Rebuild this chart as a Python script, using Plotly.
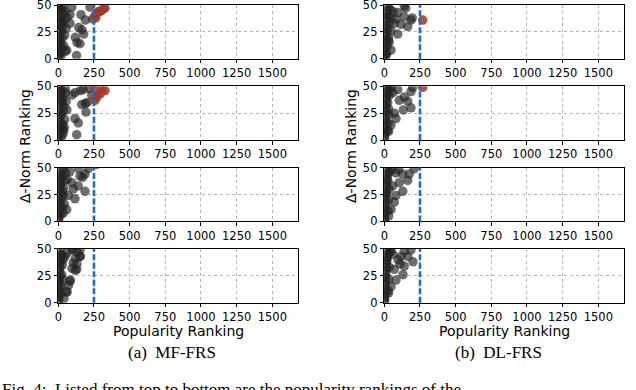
import plotly.graph_objects as go

# x = popularity ranking, y = delta-norm ranking
# MF-FRS panels (top to bottom)
mf1_x = [3, 5, 8, 4, 10, 6, 12, 3, 9, 15, 5, 11, 7, 20, 25, 18, 28, 22, 30, 17, 35, 26, 40, 45, 38, 50, 55, 48, 60, 33,
         82, 94, 119, 128, 131, 143, 152, 159, 166, 178, 189, 222, 59, 82, 240, 14, 24, 2]
mf1_y = [1, 4, 8, 12, 16, 20, 24, 28, 32, 36, 40, 44, 48, 3, 10, 14, 19, 26, 30, 38, 42, 46, 35, 22, 12, 7, 28, 44, 38, 49,
         33, 48, 20, 3, 15, 29, 14, 41, 27, 23, 36, 48, 8, 41, 37, 6, 33, 46]
mf1_red_x = [257, 269, 282, 293, 304, 318, 327, 262]
mf1_red_y = [40, 42, 44, 44, 45, 47, 47, 38]

mf2_x = [2, 6, 4, 9, 12, 7, 15, 3, 10, 18, 6, 14, 22, 25, 30, 20, 35, 28, 40, 32, 45, 38, 50, 55, 60, 16, 26, 42,
         49, 96, 154, 117, 175, 164, 203, 194, 117, 140, 129, 234, 215, 189, 8, 34]
mf2_y = [1, 5, 9, 13, 17, 21, 25, 29, 33, 37, 41, 45, 3, 11, 15, 23, 27, 35, 31, 39, 19, 9, 44, 36, 28, 48, 43, 12,
         48, 42, 46, 44, 47, 33, 35, 26, 20, 16, 5, 42, 48, 34, 49, 6]
mf2_red_x = [257, 304, 327, 269, 257, 293]
mf2_red_y = [48, 46, 46, 40, 37, 43]

mf3_x = [2, 5, 3, 8, 6, 11, 4, 13, 9, 16, 7, 20, 12, 24, 18, 28, 22, 30, 15, 26, 34, 38, 44, 50,
         35, 140, 210, 94, 152, 187, 171, 105, 140, 187, 70, 117, 42, 59, 35, 80, 62]
mf3_y = [1, 4, 8, 11, 15, 18, 22, 26, 30, 33, 37, 40, 44, 47, 6, 13, 20, 28, 35, 42, 24, 31, 38, 45,
         49, 49, 49, 36, 42, 44, 41, 30, 33, 28, 24, 21, 16, 11, 8, 46, 39]
mf3_red_x = [268]
mf3_red_y = [53]

mf4_x = [1, 3, 2, 5, 4, 7, 3, 8, 6, 10, 5, 12, 9, 14, 11, 16, 13, 18, 20, 24, 28, 22, 30, 34,
         105, 152, 47, 152, 105, 129, 82, 59, 96, 131, 154, 119, 131, 96, 119, 84, 72, 61, 40, 60]
mf4_y = [1, 3, 6, 9, 12, 15, 18, 21, 24, 27, 30, 33, 36, 39, 42, 45, 48, 8, 16, 26, 35, 44, 22, 40,
         50, 49, 43, 43, 37, 31, 20, 10, 49, 47, 43, 41, 36, 32, 30, 21, 16, 10, 4, 46]
mf4_red_x = []
mf4_red_y = []

# DL-FRS panels (top to bottom)
dl1_x = [2, 5, 3, 7, 4, 9, 6, 11, 8, 13, 10, 15, 18, 22, 26, 20, 30, 24, 35, 28, 40, 16, 45, 33,
         94, 140, 82, 140, 187, 196, 70, 117, 164, 94, 47, 30, 47, 12, 60, 150]
dl1_y = [1, 4, 7, 10, 14, 17, 21, 24, 28, 31, 35, 38, 42, 45, 48, 12, 20, 27, 33, 40, 46, 5, 38, 15,
         43, 49, 37, 39, 36, 38, 33, 32, 30, 23, 26, 17, 8, 3, 44, 47]
dl1_red_x = [269]
dl1_red_y = [36]

dl2_x = [2, 4, 3, 6, 5, 8, 7, 10, 9, 12, 11, 14, 16, 19, 22, 18, 25, 28, 32, 24, 36, 40, 30, 15,
         47, 94, 199, 187, 140, 105, 164, 187, 133, 82, 47, 30, 60, 70]
dl2_y = [1, 4, 7, 10, 13, 17, 20, 23, 27, 30, 33, 37, 40, 43, 47, 50, 9, 16, 24, 35, 42, 48, 29, 45,
         49, 47, 49, 45, 40, 37, 36, 30, 28, 20, 14, 8, 44, 25]
dl2_red_x = [269]
dl2_red_y = [49]

dl3_x = [1, 3, 2, 5, 4, 7, 6, 9, 8, 11, 10, 13, 15, 18, 21, 24, 20, 27, 30, 34, 25, 38, 16,
         47, 82, 129, 175, 210, 164, 105, 129, 82, 70, 47, 30, 58, 100]
dl3_y = [1, 3, 6, 9, 12, 15, 18, 21, 24, 27, 30, 33, 36, 39, 42, 45, 48, 10, 20, 30, 38, 46, 26,
         48, 45, 44, 44, 49, 38, 36, 28, 24, 18, 11, 5, 33, 48]
dl3_red_x = []
dl3_red_y = []

dl4_x = [1, 3, 2, 5, 4, 7, 6, 9, 8, 11, 10, 13, 15, 18, 21, 24, 20, 27, 30, 34, 16, 38,
         47, 140, 187, 117, 164, 96, 201, 140, 131, 82, 70, 47, 30, 60, 110]
dl4_y = [1, 3, 6, 9, 12, 15, 18, 21, 24, 27, 30, 33, 36, 39, 42, 45, 48, 11, 22, 33, 40, 47,
         48, 48, 49, 43, 43, 40, 38, 34, 26, 21, 31, 15, 9, 45, 36]
dl4_red_x = []
dl4_red_y = []

THRESHOLD = 250
X_MAX = 1682
x_ticks = [0, 250, 500, 750, 1000, 1250, 1500]
y_ticks = [0, 25, 50]

panels = [
    (mf1_x, mf1_y, mf1_red_x, mf1_red_y), (mf2_x, mf2_y, mf2_red_x, mf2_red_y),
    (mf3_x, mf3_y, mf3_red_x, mf3_red_y), (mf4_x, mf4_y, mf4_red_x, mf4_red_y),
    (dl1_x, dl1_y, dl1_red_x, dl1_red_y), (dl2_x, dl2_y, dl2_red_x, dl2_red_y),
    (dl3_x, dl3_y, dl3_red_x, dl3_red_y), (dl4_x, dl4_y, dl4_red_x, dl4_red_y),
]

W, H = 636, 390
col_left = [58.3, 384.3]
col_right = [298.3, 624.3]
row_top = [5, 86.3, 167.6, 248.9]
row_h = 53.8

GRAY = "rgba(35,35,35,0.66)"
RED = "rgba(165,55,35,0.85)"
BLUE = "#1f6cc4"
tick_font = dict(family="DejaVu Sans", size=11.5, color="black")

fig = go.Figure()
layout = {}
shapes = []

for i, (gx, gy, rx, ry) in enumerate(panels):
    col = i // 4
    row = i % 4
    n = i + 1
    xa = "x" if n == 1 else f"x{n}"
    ya = "y" if n == 1 else f"y{n}"

    fig.add_trace(go.Scatter(
        x=gx, y=gy, mode="markers", xaxis=xa, yaxis=ya, showlegend=False,
        marker=dict(size=9.5, color=GRAY, line=dict(width=0)),
    ))
    if rx:
        fig.add_trace(go.Scatter(
            x=rx, y=ry, mode="markers", xaxis=xa, yaxis=ya, showlegend=False,
            marker=dict(size=9.5, color=RED, line=dict(width=0)),
        ))

    # threshold line
    shapes.append(dict(
        type="line", xref=xa, yref=f"{ya} domain", x0=THRESHOLD, x1=THRESHOLD, y0=0, y1=1,
        line=dict(color=BLUE, width=2.6, dash="6px,2.5px"),
    ))

    top = row_top[row]
    common = dict(
        showline=True, linecolor="black", linewidth=1, mirror=True,
        ticks="outside", ticklen=3.5, tickcolor="black",
        showgrid=True, gridcolor="#b5b5b5", griddash="dot", gridwidth=0.8,
        zeroline=False, tickfont=tick_font, automargin=False,
        ticklabeloverflow="allow",
    )
    layout["xaxis" if n == 1 else f"xaxis{n}"] = dict(
        domain=[col_left[col] / W, col_right[col] / W],
        anchor=ya, range=[0, X_MAX], tickvals=x_ticks, **common,
    )
    layout["yaxis" if n == 1 else f"yaxis{n}"] = dict(
        domain=[1 - (top + row_h) / H, 1 - top / H],
        anchor=xa, range=[0, 50], tickvals=y_ticks, **common,
    )

annotations = []
label_font = dict(family="DejaVu Sans", size=14, color="black")
serif_font = dict(family="Liberation Serif", size=17, color="black")
for col, cap in enumerate(["(a)  MF-FRS", "(b)  DL-FRS"]):
    cx = (col_left[col] + col_right[col]) / 2 / W
    annotations.append(dict(text="Popularity Ranking", x=cx, y=1 - 321 / H, xref="paper", yref="paper",
                            xanchor="center", yanchor="top", showarrow=False, font=label_font))
    annotations.append(dict(text=cap, x=cx - 6 / W, y=1 - 341 / H, xref="paper", yref="paper",
                            xanchor="center", yanchor="top", showarrow=False, font=serif_font))
annotations.append(dict(text="Δ-Norm Ranking", x=25 / W, y=1 - 146 / H, xref="paper", yref="paper",
                        xanchor="center", yanchor="middle", textangle=-90, showarrow=False, font=label_font))
annotations.append(dict(text="Δ-Norm Ranking", x=351 / W, y=1 - 146 / H, xref="paper", yref="paper",
                        xanchor="center", yanchor="middle", textangle=-90, showarrow=False, font=label_font))
annotations.append(dict(text="Fig. 4:  Listed from top to bottom are the popularity rankings of the",
                        x=0, y=1 - 378 / H, xref="paper", yref="paper", xanchor="left", yanchor="top",
                        showarrow=False, font=serif_font))

fig.update_layout(
    **layout,
    shapes=shapes,
    annotations=annotations,
    width=W, height=H,
    margin=dict(l=0, r=0, t=0, b=0),
    paper_bgcolor="white", plot_bgcolor="white",
)

# drop the browser's default page margin so the figure sits at the window corner
fig.write_html("out.html", config={"displayModeBar": False},
               post_script="document.body.style.margin='0';")
